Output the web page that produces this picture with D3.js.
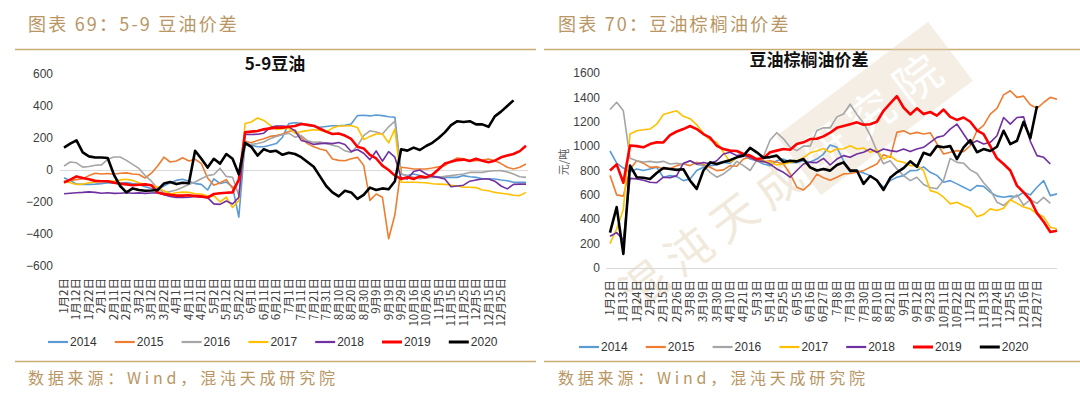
<!DOCTYPE html>
<html>
<head>
<meta charset="utf-8">
<script src="https://cdn.jsdelivr.net/npm/d3@7"></script>
<style>
  body { margin: 0; background: #fff; }
  svg { display: block; font-family: "Noto Sans CJK SC", "Liberation Sans", sans-serif; }
</style>
</head>
<body>
<svg id="chart" width="1080" height="393"></svg>
<script>
// series, colours and tick labels
const years = ['2014', '2015', '2016', '2017', '2018', '2019', '2020'];
const colors = ['#5B9BD5', '#ED7D31', '#A5A5A5', '#FFC000', '#7030A0', '#FF0000', '#000000'];

const ticksL = ['1月2日','1月12日','1月22日','2月1日','2月11日','2月21日','3月2日','3月12日','3月22日','4月1日','4月11日','4月21日',
  '5月2日','5月12日','5月22日','6月1日','6月11日','6月21日','7月1日','7月11日','7月21日','7月31日','8月10日','8月20日','8月30日',
  '9月9日','9月19日','9月29日','10月16日','10月26日','11月5日','11月15日','11月25日','12月5日','12月15日','12月25日'];
const ticksR = ['1月2日','1月13日','1月24日','2月4日','2月15日','2月26日','3月8日','3月19日','3月30日','4月10日','4月21日','5月3日',
  '5月14日','5月25日','6月5日','6月16日','6月27日','7月8日','7月19日','7月30日','8月10日','8月21日','9月1日','9月12日','9月23日',
  '10月11日','10月22日','11月2日','11月13日','11月24日','12月5日','12月16日','12月27日'];
const yTicksL = [-600, -400, -200, 0, 200, 400, 600];
const yTicksR = [0, 200, 400, 600, 800, 1000, 1200, 1400, 1600];

// 5-9 soybean oil spread, two readings per tick interval
const spreadL2014 = [-48,-65,-88,-90,-90,-88,-85,-79,-82,-83,-79,-85,-90,-105,-115,-120,-100,-80,-65,-58,-70,-85,-90,-125,-55,-85,-75,-105,-295,170,
  155,145,145,155,165,205,290,295,292,280,272,267,272,277,277,280,287,340,342,338,344,340,333,330,-25,-35,-25,-35,-46,-40,
  -42,-46,-45,-46,-35,-42,-46,-55,-55,-56,-62,-67,-77,-77,-77];
const spreadL2015 = [-70,-65,-60,-55,-35,-20,-25,-22,-27,-20,-18,-25,-28,-50,-20,25,80,50,56,77,56,67,40,-50,-95,-80,-60,-115,-70,180,
  170,185,195,210,215,225,240,250,204,165,145,131,122,69,60,58,70,79,30,-190,-150,-170,-430,-280,17,12,6,6,6,12,
  20,27,55,75,70,58,58,62,69,58,40,17,6,17,37];
const spreadL2016 = [25,50,45,18,22,30,32,67,81,81,60,35,10,-35,-70,-115,-142,-135,-125,-108,-90,-75,-55,-35,-28,10,-40,-45,-160,155,
  160,165,175,195,210,220,230,205,215,183,173,175,165,155,145,120,110,150,215,245,238,225,270,305,-25,-38,-46,-55,-50,-46,
  -45,-40,-35,-30,-25,-15,-15,-15,-8,-5,-4,-12,-25,-42,-46];
const spreadL2017 = [-69,-80,-90,-88,-80,-75,-72,-70,-69,-62,-58,-65,-80,-90,-98,-105,-130,-150,-142,-138,-140,-148,-150,-162,-160,-200,-170,-235,-190,290,
  300,325,310,280,254,258,262,228,240,246,252,248,238,262,275,275,278,265,190,210,225,225,170,255,-77,-77,-77,-78,-80,-86,
  -88,-90,-95,-100,-108,-108,-110,-125,-130,-140,-145,-150,-158,-160,-140];
const spreadL2018 = [-148,-145,-142,-140,-137,-140,-145,-142,-146,-145,-142,-145,-143,-146,-144,-142,-155,-165,-172,-172,-170,-165,-170,-173,-212,-215,-194,-212,-170,222,
  222,223,230,265,275,275,270,245,185,175,160,165,168,165,172,160,115,128,105,65,119,55,115,80,-50,-56,-10,0,-25,-40,
  -46,-56,-105,-100,-95,-70,-62,-56,-56,-70,-100,-118,-90,-88,-88];
const spreadL2019 = [-79,-60,-40,-50,-58,-68,-70,-70,-79,-85,-90,-95,-92,-90,-95,-140,-150,-155,-160,-160,-158,-162,-165,-172,-150,-145,-142,-140,-60,235,
  240,244,254,260,265,265,270,275,287,282,277,258,240,225,228,215,194,145,135,95,72,27,0,-35,-56,-46,-56,-40,-46,-30,
  5,40,52,62,65,56,70,58,48,58,79,90,100,118,152];
const spreadL2020 = [140,165,185,110,85,78,78,75,-30,-100,-140,-115,-125,-130,-128,-125,-85,-75,-88,-80,-83,120,70,15,70,40,100,70,-27,170,
  145,90,130,115,120,95,108,100,80,50,20,-40,-100,-140,-165,-130,-140,-180,-155,-110,-125,-115,-120,-70,130,121,140,125,150,170,
  200,235,280,305,300,305,285,285,270,335,365,400,435,null,null];

// soybean oil - palm oil spread (元/吨), two readings per tick interval
const spreadR2014 = [960,860,820,790,813,800,813,826,745,758,750,717,731,800,826,840,845,867,860,908,922,894,880,853,840,880,894,867,865,880,
  870,894,935,1010,990,880,785,799,780,758,717,663,717,745,758,799,800,830,785,760,704,717,690,663,635,676,670,622,590,581,
  590,585,622,600,663,717,594,608];
const spreadR2015 = [760,600,590,810,880,860,826,830,813,815,840,853,840,867,850,826,799,805,840,835,894,908,880,870,880,867,853,772,663,640,
  690,770,740,720,745,772,775,785,799,826,853,930,908,1113,1126,1099,1113,1100,1110,1020,935,949,963,955,1003,1126,1170,1263,1310,1420,
  1454,1400,1410,1340,1310,1358,1400,1385];
const spreadR2016 = [1300,1360,1290,900,880,870,875,867,875,853,860,850,880,850,840,785,745,772,813,875,840,800,885,915,1050,1110,1060,990,963,1000,
  1000,1126,1150,1150,1240,1263,1344,1260,1190,1090,960,855,880,813,758,717,745,685,660,650,720,900,867,860,805,775,700,640,540,513,
  560,600,515,560,530,580,530,null];
const spreadR2017 = [200,320,480,1100,1126,1135,1140,1180,1260,1276,1290,1245,1225,1175,1105,1050,1031,950,870,905,935,910,882,880,867,845,853,865,878,905,
  945,960,980,950,976,978,1003,976,985,949,970,895,920,880,867,840,842,800,635,620,581,526,540,513,490,420,440,485,472,490,
  560,530,500,485,444,420,335,320];
const spreadR2018 = [260,290,230,735,731,720,704,700,745,740,758,860,880,853,865,855,880,935,949,922,930,908,880,875,853,813,785,745,800,853,
  867,865,900,845,894,922,908,935,949,976,949,976,963,955,976,955,976,990,1031,1072,1085,1140,1181,1099,1017,1044,1017,1031,1085,1235,
  1181,1235,1240,1040,922,908,853,null];
const spreadR2019 = [800,850,700,1005,1000,990,1017,1031,1030,1090,1120,1140,1165,1140,1099,1070,1003,976,963,960,935,922,894,900,949,963,976,970,1017,1031,
  1058,1060,1080,1110,1150,1165,1180,1195,1175,1180,1200,1290,1350,1410,1317,1260,1310,1263,1280,1250,1300,1240,1215,1235,1200,1130,1099,1000,900,853,
  800,676,620,560,450,380,295,305];
const spreadR2020 = [290,500,115,840,745,740,731,780,820,813,805,810,717,649,800,867,853,870,885,908,922,985,949,905,910,922,870,880,875,894,
  826,800,813,799,845,867,799,800,690,755,720,640,740,785,820,875,830,945,925,1000,990,1000,894,990,1050,950,976,960,995,1126,
  1017,1044,1200,1065,1330,null,null,null];

const seriesL = [spreadL2014, spreadL2015, spreadL2016, spreadL2017, spreadL2018, spreadL2019, spreadL2020];
const seriesR = [spreadR2014, spreadR2015, spreadR2016, spreadR2017, spreadR2018, spreadR2019, spreadR2020];

const svg = d3.select('#chart');
const gold = '#B99663';
const rule = '#C9AA72';

// page furniture: headers, rules, source notes
function frame(x0, x1, textX, heading) {
  svg.append('text').attr('x', textX).attr('y', 31)
    .attr('fill', gold).attr('font-size', 18).attr('letter-spacing', 2.2)
    .text(heading);
  svg.append('line').attr('x1', x0).attr('x2', x1).attr('y1', 49.5).attr('y2', 49.5)
    .attr('stroke', rule).attr('stroke-width', 1.5);
  svg.append('line').attr('x1', x0).attr('x2', x1).attr('y1', 361.5).attr('y2', 361.5)
    .attr('stroke', rule).attr('stroke-width', 1.5);
  svg.append('text').attr('x', textX).attr('y', 384)
    .attr('fill', gold).attr('font-size', 16).attr('letter-spacing', 3.8)
    .text('数据来源：Wind，混沌天成研究院');
}
frame(15, 536, 28, '图表 69：5-9 豆油价差');
frame(544, 1080, 558, '图表 70：豆油棕榈油价差');

// faint watermark behind the right chart
const wm = svg.append('g').attr('transform', 'translate(636,312) rotate(-37)').attr('opacity', 0.42);
wm.append('rect').attr('x', 218).attr('y', -56).attr('width', 190).attr('height', 74).attr('fill', '#E6D7C0');
wm.append('text').attr('x', 0).attr('y', 0).attr('font-size', 46).attr('letter-spacing', 10)
  .attr('fill', '#E0CDAE').text('混沌天成');
wm.append('text').attr('x', 226).attr('y', 0).attr('font-size', 46).attr('letter-spacing', 12)
  .attr('fill', '#ffffff').text('研究院');

function panel(o) {
  const g = svg.append('g');
  const x = d3.scaleLinear().domain(o.xDomain).range(o.xRange);
  const y = d3.scaleLinear().domain(o.yDomain).range(o.yRange);

  g.append('line')
    .attr('x1', o.zeroFrom).attr('x2', o.zeroTo)
    .attr('y1', Math.round(y(0)) + 0.5).attr('y2', Math.round(y(0)) + 0.5)
    .attr('stroke', '#D9D9D9').attr('stroke-width', 1);

  // y tick labels
  g.selectAll('.yl').data(o.yTicks).join('text')
    .attr('x', o.yLabelX).attr('y', d => y(d)).attr('dy', '0.35em')
    .attr('text-anchor', 'end').attr('font-size', 12)
    .attr('font-family', 'Liberation Sans, Arial, sans-serif').attr('fill', '#404040')
    .text(d => d < 0 ? '\u2212' + Math.abs(d) : d);

  // x tick labels, written vertically
  g.selectAll('.xl').data(o.xTicks).join('text')
    .attr('transform', (d, i) => `translate(${x(i) + 4},${o.xLabelY}) rotate(-90)`)
    .attr('text-anchor', 'end').attr('font-size', 11.5).attr('fill', '#404040')
    .text(d => d);

  // one line per year; two samples per tick interval
  const line = d3.line()
    .defined(d => d != null)
    .x((d, i) => x(i * 0.5))
    .y(d => y(d));
  o.series.forEach((s, k) => {
    g.append('path').datum(s)
      .attr('fill', 'none')
      .attr('stroke', colors[k])
      .attr('stroke-width', k >= 5 ? 2.6 : 1.6)
      .attr('stroke-linejoin', 'round')
      .attr('d', line);
  });

  g.append('text').attr('x', o.titleX).attr('y', o.titleY)
    .attr('text-anchor', 'middle').attr('font-size', 17).attr('font-weight', 'bold')
    .attr('fill', '#111').text(o.title);

  // legend
  const lg = g.selectAll('.lg').data(years).join('g')
    .attr('transform', (d, i) => `translate(${o.legendX + i * 66.8},${o.legendY})`);
  lg.append('line').attr('x1', 0).attr('x2', 20).attr('y1', 0).attr('y2', 0)
    .attr('stroke', (d, i) => colors[i]).attr('stroke-width', (d, i) => i >= 5 ? 3 : 2.2);
  lg.append('text').attr('x', 22).attr('y', 0).attr('dy', '0.36em')
    .attr('font-size', 12).attr('font-family', 'Liberation Sans, Arial, sans-serif')
    .attr('fill', '#333').text(d => d);
  return { x, y };
}

panel({
  series: seriesL, xTicks: ticksL, yTicks: yTicksL,
  xDomain: [0, 37], xRange: [64, 526],
  yDomain: [-600, 600], yRange: [266, 74],
  zeroFrom: 60, zeroTo: 528, yLabelX: 53, xLabelY: 278,
  title: '5-9豆油', titleX: 275, titleY: 70,
  legendX: 48, legendY: 342
});

panel({
  series: seriesR, xTicks: ticksR, yTicks: yTicksR,
  xDomain: [0, 33.5], xRange: [610, 1057],
  yDomain: [0, 1600], yRange: [268, 73],
  zeroFrom: 606, zeroTo: 1057, yLabelX: 600, xLabelY: 280,
  title: '豆油棕榈油价差', titleX: 809, titleY: 66,
  legendX: 579, legendY: 347
});

svg.append('text')
  .attr('transform', 'translate(568,162) rotate(-90)')
  .attr('text-anchor', 'middle').attr('font-size', 11).attr('fill', '#595959')
  .text('元/吨');
</script>
</body>
</html>
